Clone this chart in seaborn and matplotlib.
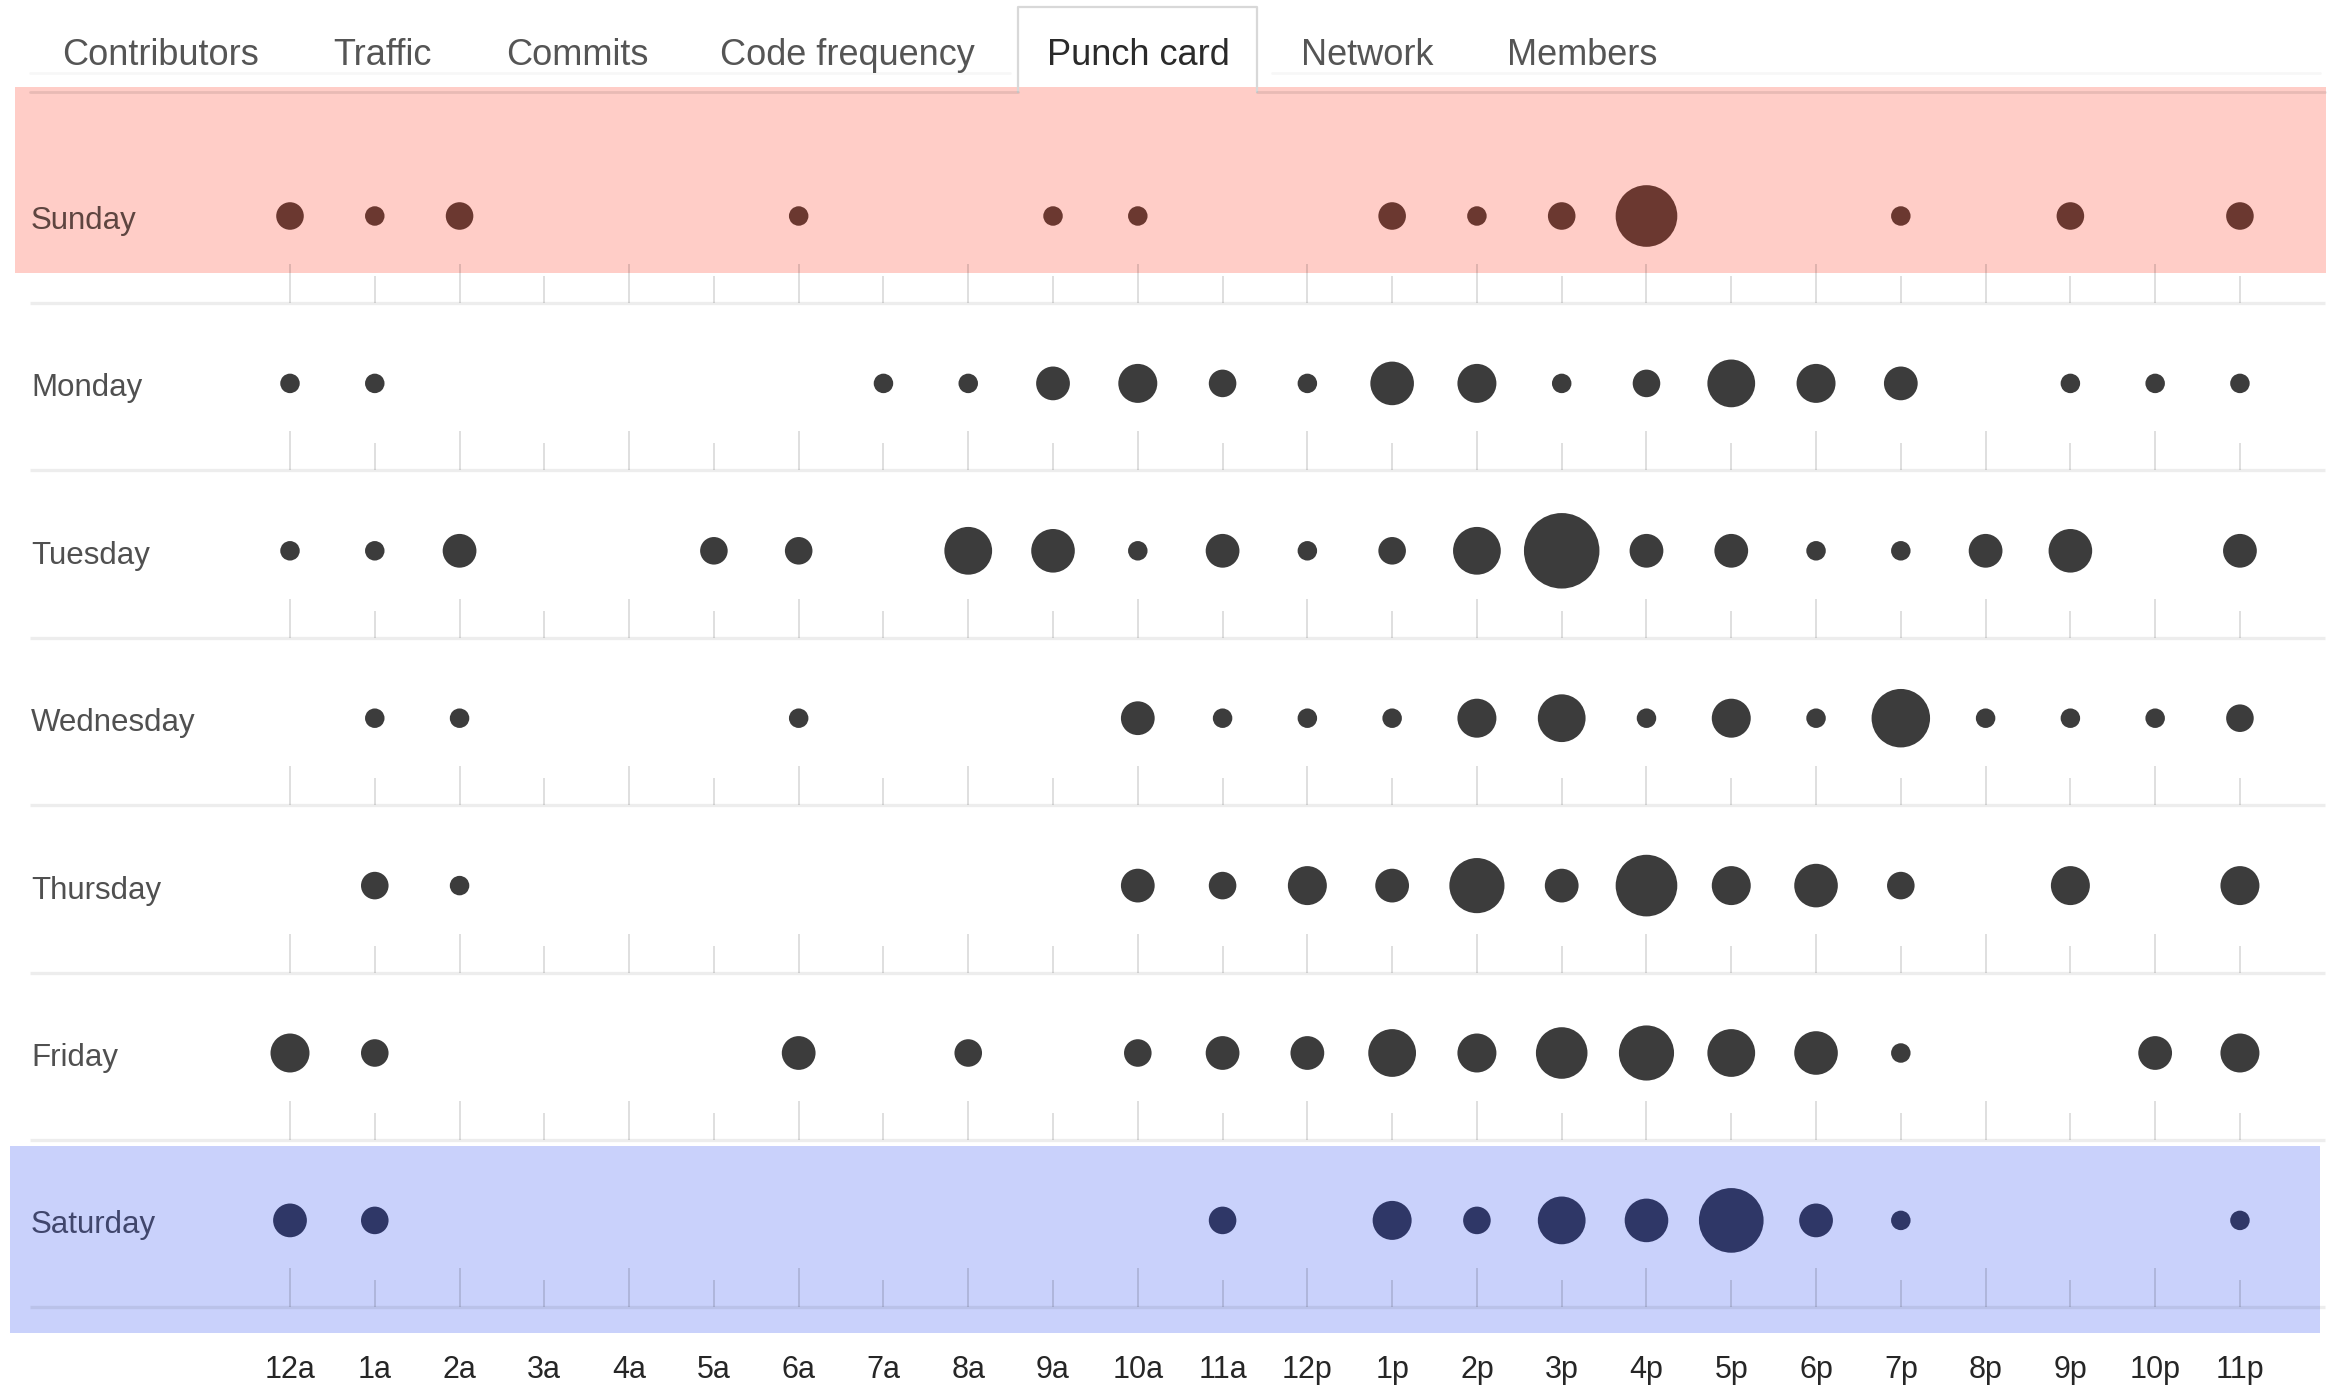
import numpy as np
import pandas as pd
import matplotlib
matplotlib.use("Agg")
import matplotlib.pyplot as plt
from matplotlib.lines import Line2D
from matplotlib.transforms import blended_transform_factory
import seaborn as sns

# ---------------- data ----------------
tabs = ["Contributors", "Traffic", "Commits", "Code frequency", "Punch card", "Network", "Members"]
active_tab = "Punch card"
days = ["Sunday", "Monday", "Tuesday", "Wednesday", "Thursday", "Friday", "Saturday"]
hour_labels = ["12a", "1a", "2a", "3a", "4a", "5a", "6a", "7a", "8a", "9a", "10a", "11a",
               "12p", "1p", "2p", "3p", "4p", "5p", "6p", "7p", "8p", "9p", "10p", "11p"]

sunday    = [2, 1, 2, 0, 0, 0, 1, 0, 0, 1, 1, 0, 0, 2, 1, 2, 10, 0, 0, 1, 0, 2, 0, 2]
monday    = [1, 1, 0, 0, 0, 0, 0, 1, 1, 3, 4, 2, 1, 5, 4, 1, 2, 6, 4, 3, 0, 1, 1, 1]
tuesday   = [1, 1, 3, 0, 0, 2, 2, 0, 6, 5, 1, 3, 1, 2, 6, 15, 3, 3, 1, 1, 3, 5, 0, 3]
wednesday = [0, 1, 1, 0, 0, 0, 1, 0, 0, 0, 3, 1, 1, 1, 4, 6, 1, 4, 1, 9, 1, 1, 1, 2]
thursday  = [0, 2, 1, 0, 0, 0, 0, 0, 0, 0, 3, 2, 4, 3, 8, 3, 10, 4, 5, 2, 0, 4, 0, 4]
friday    = [4, 2, 0, 0, 0, 0, 3, 0, 2, 0, 2, 3, 3, 6, 4, 7, 8, 6, 5, 1, 0, 0, 3, 4]
saturday  = [3, 2, 0, 0, 0, 0, 0, 0, 0, 0, 0, 2, 0, 4, 2, 6, 5, 11, 3, 1, 0, 0, 0, 1]
counts = [sunday, monday, tuesday, wednesday, thursday, friday, saturday]

# ---------------- style ----------------
sns.set_theme(style="white")
plt.rcParams["font.family"] = ["Liberation Sans", "DejaVu Sans"]

dot_colors = {d: "#3c3c3c" for d in days}
dot_colors["Sunday"] = "#6b3830"
dot_colors["Saturday"] = "#2f3767"
label_colors = {d: "#505050" for d in days}
label_colors["Sunday"] = "#5e4540"
label_colors["Saturday"] = "#40466c"

W, H = 2347, 1386
fig = plt.figure(figsize=(W / 100, H / 100), dpi=100)
fig.patch.set_facecolor("white")
ax = fig.add_axes([0, 0, 1, 1])

# pixel calibration of the data scales
X0, DX = 290.0, 84.78
Y0, DY = 216.0, 167.4

records = []
for d, (name, vals) in enumerate(zip(days, counts)):
    for h, v in enumerate(vals):
        if v > 0:
            records.append(dict(day=name, day_idx=d, hour=h, commits=v))
df = pd.DataFrame(records)

# highlighted weekend bands
ax.axhspan((87 - Y0) / DY, (273 - Y0) / DY, xmin=15 / W, xmax=2326 / W,
           color="#ffcdc7", lw=0, zorder=0)
ax.axhspan((1146 - Y0) / DY, (1333 - Y0) / DY, xmin=10 / W, xmax=2320 / W,
           color="#c9d1fb", lw=0, zorder=0)

# baselines and hour ticks per row
hours = np.arange(24)
base_off = (303 - Y0) / DY
for d in range(len(days)):
    base = d + base_off
    ax.hlines(base, (30 - X0) / DX, (2325 - X0) / DX, color="black", alpha=0.07,
              lw=2.4, zorder=1)
    heights = np.where(hours % 2 == 0, 39 / DY, 27 / DY)
    ax.vlines(hours, base - heights, base, color="black", alpha=0.13, lw=1.4, zorder=1)

sns.scatterplot(data=df, x="hour", y="day_idx", hue="day", palette=dot_colors,
                size="commits", sizes=(197, 197 * 15), size_norm=(1, 15),
                linewidth=0, legend=False, ax=ax, zorder=3)

ax.set_xlim(-X0 / DX, (W - X0) / DX)
ax.set_ylim((H - Y0) / DY, -Y0 / DY)
ax.axis("off")

# day labels
tr = blended_transform_factory(ax.transAxes, ax.transData)
for d, name in enumerate(days):
    ax.text(31 / W, d + 0.078, name, transform=tr, ha="left", va="baseline",
            fontsize=22.5, color=label_colors[name])

# hour labels
for h, lab in enumerate(hour_labels):
    ax.text(h, (1378 - Y0) / DY, lab, ha="center", va="baseline",
            fontsize=22, color="#262626")

# tabs
tab_centers = [160, 382, 577, 847, 1138, 1367, 1582]
for t, cx in zip(tabs, tab_centers):
    fig.text(cx / W, 1 - 65 / H, t, ha="center", va="baseline", fontsize=26,
             color="#2a2a2a" if t == active_tab else "#555555")


def fig_line(xs, ys, **kw):
    fig.add_artist(Line2D([x / W for x in xs], [1 - y / H for y in ys],
                          transform=fig.transFigure, **kw))


fig_line([1018, 1018, 1257, 1257], [92, 7, 7, 92], color="#d8d8d8", lw=1.6)
fig_line([30, 1018], [92, 92], color="black", alpha=0.09, lw=2)
fig_line([1257, 2325], [92, 92], color="black", alpha=0.09, lw=2)
fig_line([30, 1010], [73, 73], color="black", alpha=0.03, lw=2)
fig_line([1272, 2320], [73, 73], color="black", alpha=0.03, lw=2)

fig.savefig("out.png", dpi=100)
